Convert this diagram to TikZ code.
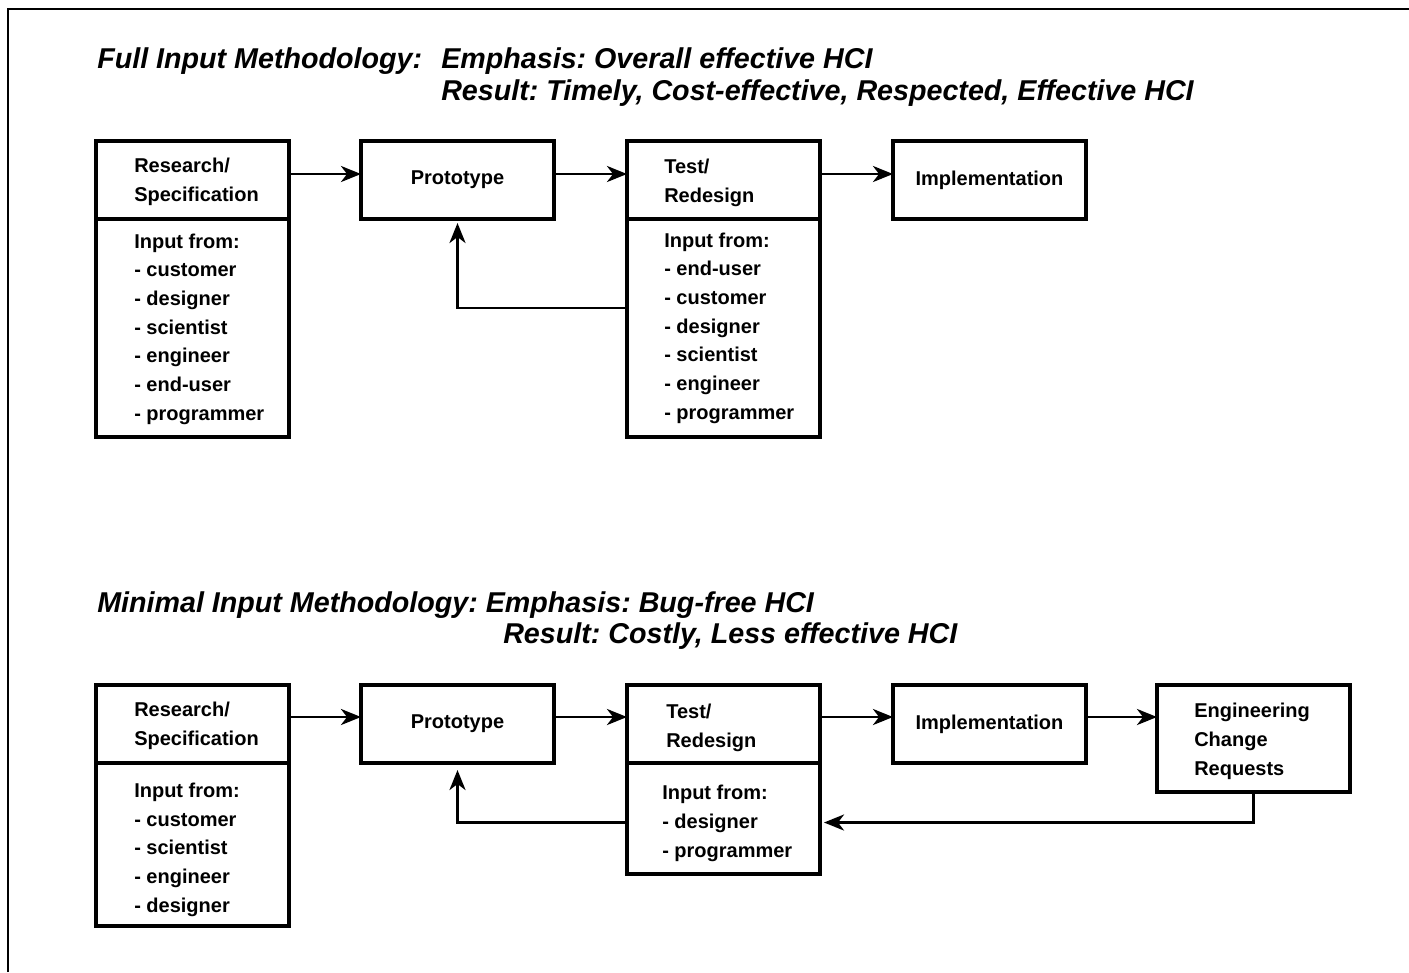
\documentclass[tikz,border=0pt]{standalone}
\usepackage{fontspec}
\setmainfont{Liberation Sans}
\usetikzlibrary{arrows.meta,calc}

\newcommand{\boxfont}{\fontsize{15}{21.5}\selectfont\bfseries}
\newcommand{\ttlfont}{\fontsize{21.5}{31}\selectfont\bfseries\itshape\frenchspacing}

\tikzset{
  blk/.style={draw, line width=2.7pt, outer sep=0pt, inner sep=0pt, anchor=north west,
    minimum width=144.75pt, font=\boxfont},
  head/.style={blk, minimum height=58.5pt},
  flow/.style={line width=2.2pt, -{Stealth[length=15pt,width=12pt,inset=4.5pt]}},
  lbl/.style={anchor=base west, inner sep=0pt, align=left, font=\boxfont},
  ttl/.style={anchor=base west, inner sep=0pt, font=\ttlfont}
}

\begin{document}
\begin{tikzpicture}[x=0.75pt,y=0.75pt,yscale=-1,xscale=1]
\useasboundingbox (0,0) rectangle (1409,972);

%Frame
\draw [line width=1.6pt] (8,972) -- (8,9) -- (1409,9) ;

% Text Node: full input
\node [ttl] (fulla) at (97,68) {Full Input Methodology:};
\node [ttl] (fullb) at (441,68) {Emphasis: Overall effective HCI};
\node [ttl] (fullc) at (441,100) {Result: Timely, Cost-effective, Respected, Effective HCI};

%Shape: Rectangle, top row
\node [head] (rs1) at (96,141) {};
\node [blk, minimum height=163.5pt] (rs1l) at (96,219) {};
\node [head] (pt1) at (361,141) {Prototype};
\node [head] (td1) at (627,141) {};
\node [blk, minimum height=163.5pt] (td1l) at (627,219) {};
\node [head] (im1) at (893,141) {Implementation};

% Text Node (base = last line)
\node [lbl] (rs1t) at (134,201) {Research/\\Specification};
\node [lbl] (rs1i) at (134,420) {Input from:\\- customer\\- designer\\- scientist\\- engineer\\- end-user\\- programmer};
\node [lbl] (td1t) at (664,202) {Test/\\Redesign};
\node [lbl] (td1i) at (664,419) {Input from:\\- end-user\\- customer\\- designer\\- scientist\\- engineer\\- programmer};

%Straight Lines
\draw [flow] ($(rs1.east)+(0,-6)$) -- ($(pt1.west)+(0,-6)$) ;
\draw [flow] ($(pt1.east)+(0,-6)$) -- ($(td1.west)+(0,-6)$) ;
\draw [flow] ($(td1.east)+(0,-6)$) -- ($(im1.west)+(0,-6)$) ;
\draw [flow] ($(td1l.north west)+(0,89)$) -| ($(pt1.south)+(0,4)$) ;

% Text Node: minimal input
\node [ttl] (mina) at (97,612) {Minimal Input Methodology: Emphasis: Bug-free HCI};
\node [ttl] (minb) at (503,643) {Result: Costly, Less effective HCI};

%Shape: Rectangle, bottom row
\node [head] (rs2) at (96,685) {};
\node [blk, minimum height=122.25pt] (rs2l) at (96,763) {};
\node [head] (pt2) at (361,685) {Prototype};
\node [head] (td2) at (627,685) {};
\node [blk, minimum height=83.25pt] (td2l) at (627,763) {};
\node [head] (im2) at (893,685) {Implementation};
\node [blk, minimum height=80.25pt] (ecr) at (1157,685) {};

% Text Node (base = last line)
\node [lbl] (rs2t) at (134,745) {Research/\\Specification};
\node [lbl] (rs2i) at (134,912) {Input from:\\- customer\\- scientist\\- engineer\\- designer};
\node [lbl] (td2t) at (666,747) {Test/\\Redesign};
\node [lbl] (td2i) at (662,857) {Input from:\\- designer\\- programmer};
\node [lbl] (ecrt) at (1194,775) {Engineering\\Change\\Requests};

%Straight Lines
\draw [flow] ($(rs2.east)+(0,-7)$) -- ($(pt2.west)+(0,-7)$) ;
\draw [flow] ($(pt2.east)+(0,-7)$) -- ($(td2.west)+(0,-7)$) ;
\draw [flow] ($(td2.east)+(0,-7)$) -- ($(im2.west)+(0,-7)$) ;
\draw [flow] ($(im2.east)+(0,-7)$) -- ($(ecr.west |- im2.west)+(0,-7)$) ;
\draw [flow] (ecr.south) |- ($(td2l.east)+(4,4)$) ;
\draw [flow] ($(td2l.west)+(0,4)$) -| ($(pt2.south)+(0,7)$) ;

\end{tikzpicture}
\end{document}
